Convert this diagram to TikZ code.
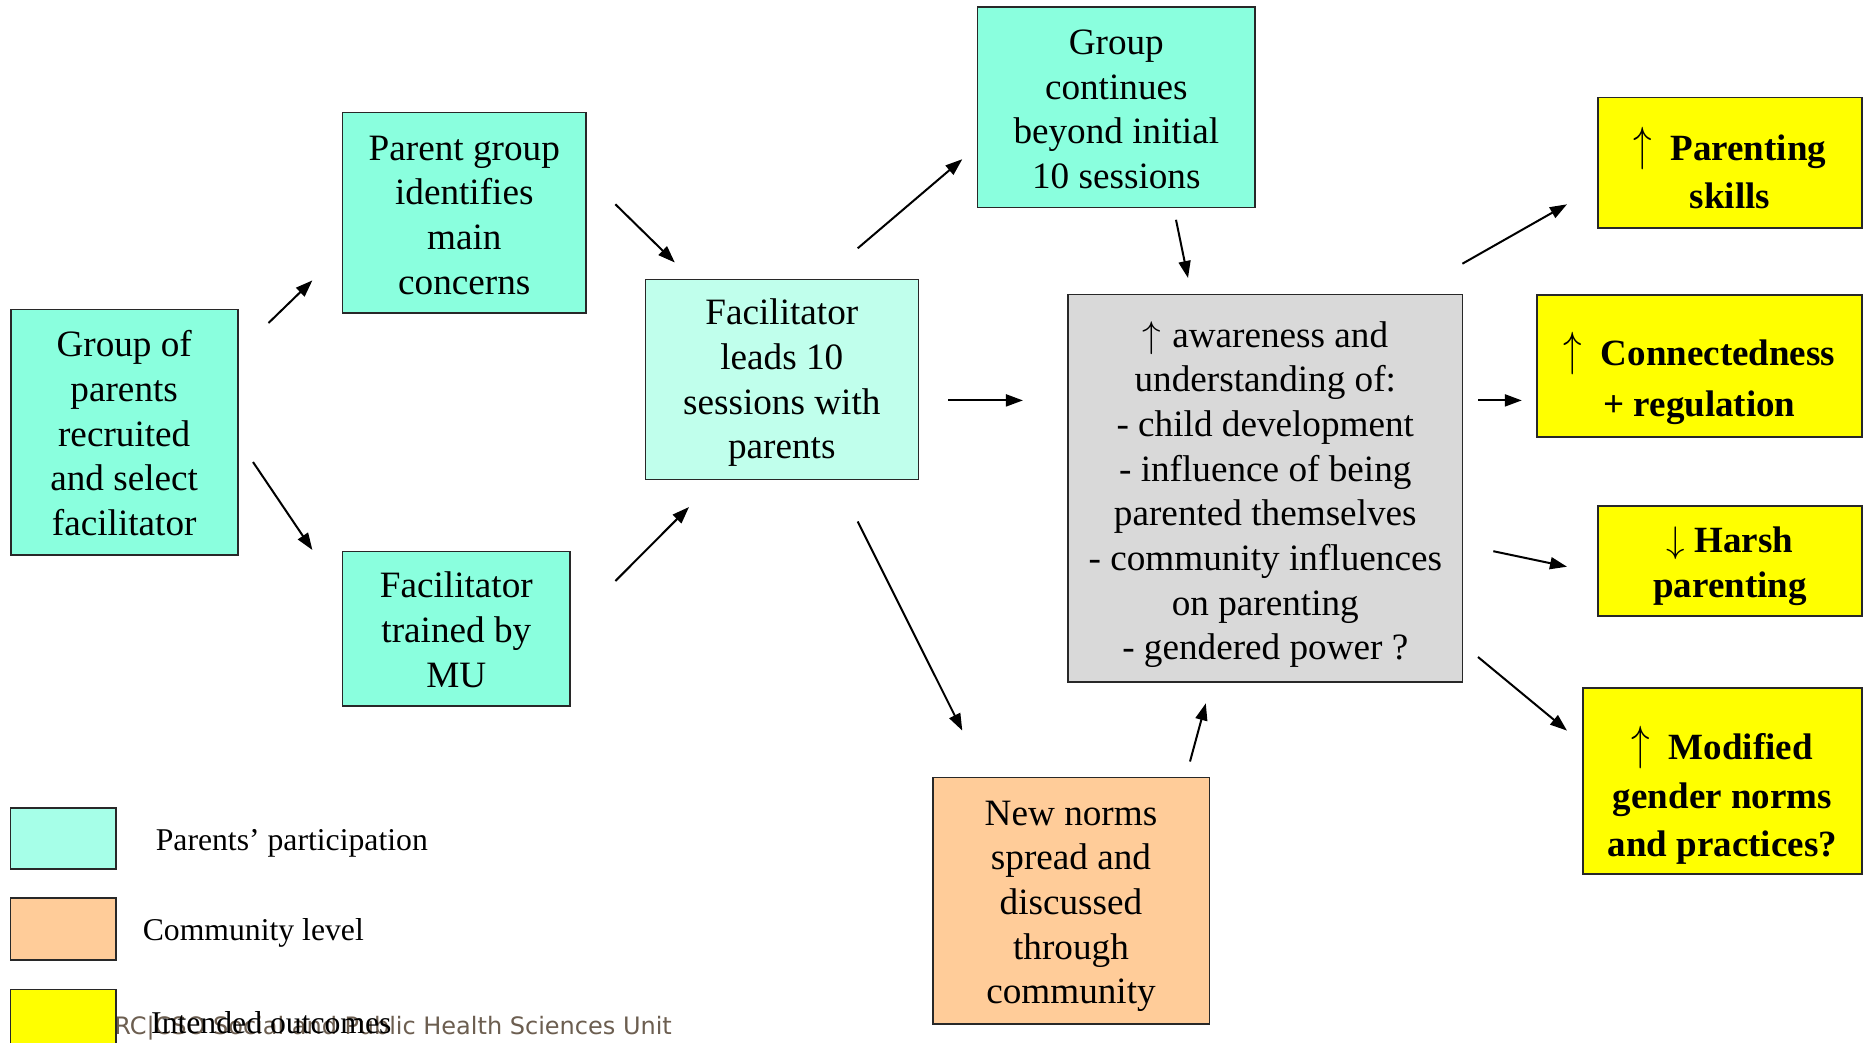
\RequirePackage{fix-cm}
\documentclass[tikz,border=0pt]{standalone}
\usepackage{fontspec}
\usepackage{graphicx}
\setmainfont{Liberation Serif}
\newfontfamily\footfont{DejaVu Sans}
\usetikzlibrary{arrows.meta}
\definecolor{tealA}{RGB}{138,255,222}
\definecolor{tealB}{RGB}{192,255,236}
\definecolor{tealL}{RGB}{166,255,232}
\definecolor{greyB}{RGB}{217,217,217}
\definecolor{peach}{RGB}{255,204,153}
\definecolor{yel}{RGB}{255,255,0}
\definecolor{bord}{RGB}{40,40,40}
\definecolor{footc}{RGB}{108,94,80}
\newcommand{\myUp}{\smash{$\uparrow$}}
\newcommand{\myBigUp}{\smash{\scalebox{1}[1.3]{$\uparrow$}}}
\newcommand{\myDown}{\smash{$\downarrow$}}
\tikzset{
  box/.style={draw=bord, line width=1.6pt, inner sep=0pt},
  txt/.style={inner sep=0pt, align=center, font=\fontsize{37.2}{44.7}\selectfont},
  btxt/.style={inner sep=0pt, align=center, font=\fontsize{37}{48.7}\selectfont\bfseries},
  outbox/.style={box, fill=yel},
  legbox/.style={draw=bord, line width=1.6pt, inner sep=0pt, minimum width=105.7pt},
  legtext/.style={anchor=base west, inner sep=0pt, font=\fontsize{31.7}{36}\selectfont},
  arr/.style={line width=2pt, -{Triangle[length=17pt,width=12pt]}},
}
\begin{document}
\begin{tikzpicture}[x=1pt,y=-1pt]
\useasboundingbox (0,0) rectangle (1863,1042);
\fill[white] (0,0) rectangle (1863,1042);

% process boxes
\node[box, fill=tealA, minimum width=227pt, minimum height=245.7pt] (grp) at (124.2,432.2) {};
\node[txt] (grpT) at ([yshift=-1pt]grp.center) {Group of\\parents\\recruited\\and select\\facilitator};
\node[box, fill=tealA, minimum width=243.3pt, minimum height=200.3pt] (pgi) at (464.3,212.8) {};
\node[txt] (pgiT) at ([yshift=-2.5pt]pgi.center) {Parent group\\identifies\\main\\concerns};
\node[box, fill=tealA, minimum width=227.3pt, minimum height=154.3pt] (fac) at (456.3,628.8) {};
\node[txt] (facT) at ([yshift=-1pt]fac.center) {Facilitator\\trained by\\MU};
\node[box, fill=tealB, minimum width=273pt, minimum height=200pt] (lead) at (781.8,379.3) {};
\node[txt] (leadT) at ([yshift=-3.5pt]lead.center) {Facilitator\\leads 10\\sessions with\\parents};
\node[box, fill=tealA, minimum width=277.3pt, minimum height=200.6pt] (cont) at (1116.3,107) {};
\node[txt] (contT) at ([yshift=-2.5pt]cont.center) {Group\\continues\\beyond initial\\10 sessions};
\node[box, fill=greyB, minimum width=394.5pt, minimum height=387.4pt] (aw) at (1265.3,488.1) {};
\node[txt] (awT) at ([yshift=-6.5pt]aw.center)
  {\myUp\hspace{0.3em}awareness and\\understanding of:\\- child development\\- influence of being\\parented themselves\\- community influences\\on parenting\\- gendered power ?};
\node[box, fill=peach, minimum width=276.6pt, minimum height=246.3pt] (norms) at (1071,900.8) {};
\node[txt] (normsT) at ([yshift=-5.5pt]norms.center) {New norms\\spread and\\discussed\\through\\community};

% outcome boxes
\node[outbox, minimum width=264.3pt, minimum height=130.5pt] (ps) at (1729.9,162.7) {};
\node[btxt] (psT) at ([yshift=-9pt]ps.center) {\myBigUp\hspace{0.5em}Parenting\\skills};
\node[outbox, minimum width=325pt, minimum height=142pt] (conn) at (1699.5,365.7) {};
\node[btxt, font=\fontsize{37}{51}\selectfont\bfseries] (connT) at ([yshift=-17pt]conn.center)
  {\myBigUp\hspace{0.5em}Connectedness\\+ regulation};
\node[outbox, minimum width=264.3pt, minimum height=109.5pt] (harsh) at (1729.9,561) {};
\node[btxt, font=\fontsize{37}{45}\selectfont\bfseries] (harshT) at ([yshift=-5pt]harsh.center)
  {\myDown\hspace{0.25em}Harsh\\parenting};
\node[outbox, minimum width=279.3pt, minimum height=186pt] (mod) at (1722.4,781) {};
\node[btxt] (modT) at ([yshift=-18pt]mod.center) {\myBigUp\hspace{0.5em}Modified\\gender norms\\and practices?};

% arrow end points
\coordinate (a1s) at (268.5,323);   \coordinate (a1e) at (312.4,280.4);
\coordinate (a2s) at (253,462);     \coordinate (a2e) at (312.4,550);
\coordinate (a3s) at (615.4,204.3); \coordinate (a3e) at (674.8,262.5);
\coordinate (a4s) at (615.4,581);   \coordinate (a4e) at (689,507);
\coordinate (a5s) at (857.7,248.3); \coordinate (a5e) at (962.3,159.2);
\coordinate (a6s) at (948,400.4);   \coordinate (a6e) at (1022.9,400.4);
\coordinate (a7s) at (857.7,521.5); \coordinate (a7e) at (962.3,730.6);
\coordinate (a8s) at (1176,219.8);  \coordinate (a8e) at (1188,278);
\coordinate (a9s) at (1190,761.5);  \coordinate (a9e) at (1205.8,703.3);
\coordinate (b1s) at (1462.4,263.7); \coordinate (b1e) at (1567,204.3);
\coordinate (b2s) at (1478,400.4);   \coordinate (b2e) at (1521.8,400.4);
\coordinate (b3s) at (1493.3,551.2); \coordinate (b3e) at (1567,566.7);
\coordinate (b4s) at (1478,657);     \coordinate (b4e) at (1567,730.6);

\draw[arr] (a1s) -- (a1e);
\draw[arr] (a2s) -- (a2e);
\draw[arr] (a3s) -- (a3e);
\draw[arr] (a4s) -- (a4e);
\draw[arr] (a5s) -- (a5e);
\draw[arr] (a6s) -- (a6e);
\draw[arr] (a7s) -- (a7e);
\draw[arr] (a8s) -- (a8e);
\draw[arr] (a9s) -- (a9e);
\draw[arr] (b1s) -- (b1e);
\draw[arr] (b2s) -- (b2e);
\draw[arr] (b3s) -- (b3e);
\draw[arr] (b4s) -- (b4e);

% footer (partly hidden by the legend box)
\node[anchor=base east, inner sep=0pt, text=footc, font=\footfont\fontsize{24}{28}\selectfont] (foot) at (672,1034)
  {MRC|CSO Social and Public Health Sciences Unit};

% legend
\node[legbox, fill=tealL, minimum height=61pt] (l1) at (63.4,838.6) {};
\node[legbox, fill=peach, minimum height=62pt] (l2) at (63.4,929) {};
\node[legbox, fill=yel, minimum height=64pt] (l3) at (63.4,1021.3) {};
\node[legtext] (t1) at (155.6,850) {Parents’ participation};
\node[legtext] (t2) at (142.6,940) {Community level};
\node[legtext] (t3) at (151,1033) {Intended outcomes};
\end{tikzpicture}
\end{document}
